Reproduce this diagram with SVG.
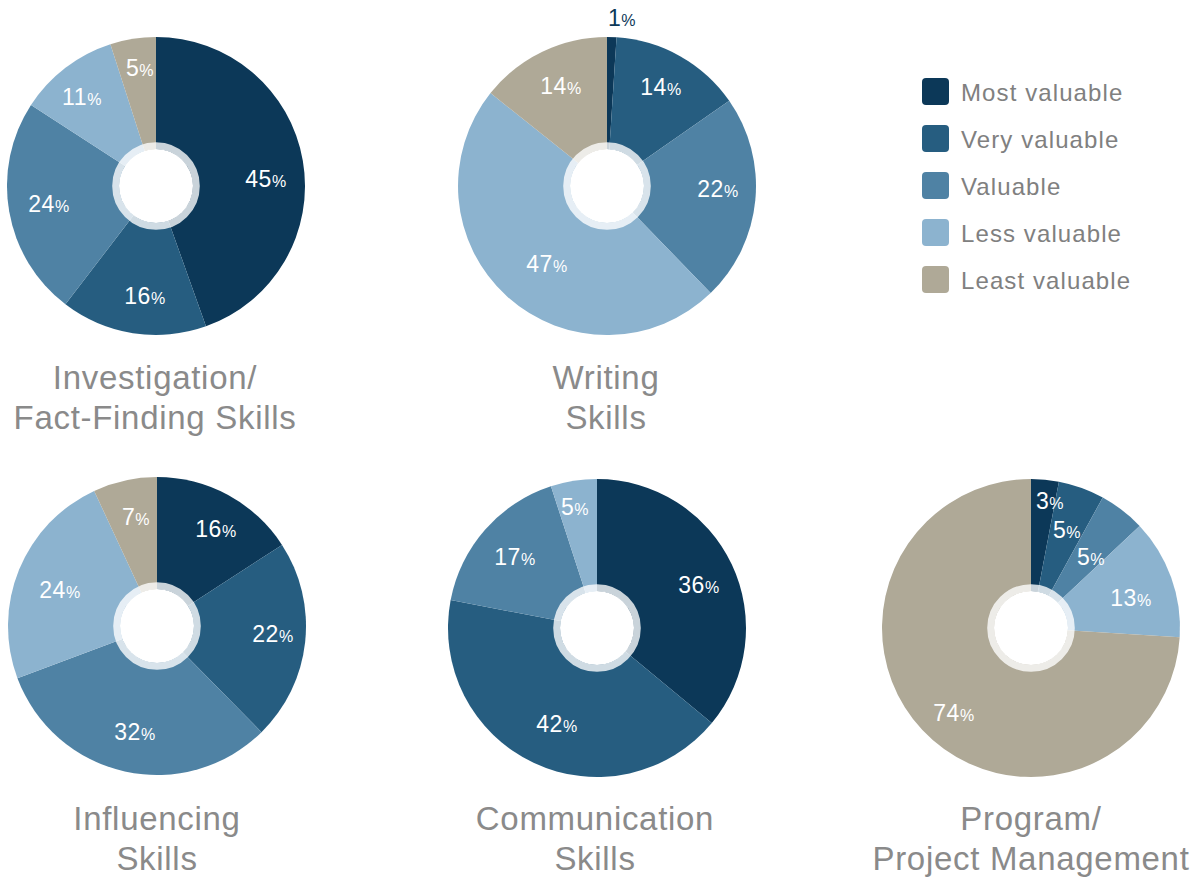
<svg xmlns="http://www.w3.org/2000/svg" width="1204" height="880" viewBox="0 0 1204 880">
<style>
.c1{fill:#0c3858}.c2{fill:#265d80}.c3{fill:#4f82a4}.c4{fill:#8cb3cf}.c5{fill:#afa997}
.ring{fill:none;stroke:#ffffff;stroke-opacity:0.78;stroke-width:7}
.hole{fill:#ffffff}
.lbl{font-family:"Liberation Sans",Arial,sans-serif;font-size:23px;fill:#ffffff;text-anchor:middle;letter-spacing:0.6px}
.lbl .p{font-size:16px}
.title{font-family:"Liberation Sans",Arial,sans-serif;font-size:33px;fill:#8a8a8a;text-anchor:middle;letter-spacing:0.7px}
.leg{font-family:"Liberation Sans",Arial,sans-serif;font-size:24px;fill:#808080;letter-spacing:1.1px}
</style>

<g id="pie-investigation">
<path class="c1" d="M156,186 L156,37 A149,149 0 0 1 205.98,326.37 Z"/>
<path class="c2" d="M156,186 L205.98,326.37 A149,149 0 0 1 65.44,304.32 Z"/>
<path class="c3" d="M156,186 L65.44,304.32 A149,149 0 0 1 30.99,104.90 Z"/>
<path class="c4" d="M156,186 L30.99,104.90 A149,149 0 0 1 110.40,44.15 Z"/>
<path class="c5" d="M156,186 L110.40,44.15 A149,149 0 0 1 156,37 Z"/>
<circle class="ring" cx="156" cy="186" r="40.3"/>
<circle class="hole" cx="156" cy="186" r="37"/>
<text class="lbl" x="266" y="187">45<tspan class="p">%</tspan></text>
<text class="lbl" x="145" y="304">16<tspan class="p">%</tspan></text>
<text class="lbl" x="49" y="212">24<tspan class="p">%</tspan></text>
<text class="lbl" x="82" y="105">11<tspan class="p">%</tspan></text>
<text class="lbl" x="140" y="76">5<tspan class="p">%</tspan></text>
<text class="title" x="155" y="389">Investigation/</text>
<text class="title" x="155" y="429">Fact-Finding Skills</text>
</g>

<g id="pie-writing">
<path class="c1" d="M607,186 L607,37 A149,149 0 0 1 616.55,37.31 Z"/>
<path class="c2" d="M607,186 L616.55,37.31 A149,149 0 0 1 729.20,100.75 Z"/>
<path class="c3" d="M607,186 L729.20,100.75 A149,149 0 0 1 710.66,293.03 Z"/>
<path class="c4" d="M607,186 L710.66,293.03 A149,149 0 0 1 490.51,93.10 Z"/>
<path class="c5" d="M607,186 L490.51,93.10 A149,149 0 0 1 607,37 Z"/>
<circle class="ring" cx="607" cy="186" r="40.3"/>
<circle class="hole" cx="607" cy="186" r="37"/>
<text class="lbl" x="622" y="26" style="fill:#0c3858">1<tspan class="p">%</tspan></text>
<text class="lbl" x="661" y="95">14<tspan class="p">%</tspan></text>
<text class="lbl" x="718" y="197">22<tspan class="p">%</tspan></text>
<text class="lbl" x="547" y="272">47<tspan class="p">%</tspan></text>
<text class="lbl" x="561" y="94">14<tspan class="p">%</tspan></text>
<text class="title" x="606" y="389">Writing</text>
<text class="title" x="606" y="429">Skills</text>
</g>

<g id="pie-influencing">
<path class="c1" d="M157,626 L157,477 A149,149 0 0 1 282.01,544.90 Z"/>
<path class="c2" d="M157,626 L282.01,544.90 A149,149 0 0 1 261.51,732.20 Z"/>
<path class="c3" d="M157,626 L261.51,732.20 A149,149 0 0 1 17.44,678.18 Z"/>
<path class="c4" d="M157,626 L17.44,678.18 A149,149 0 0 1 94.15,490.90 Z"/>
<path class="c5" d="M157,626 L94.15,490.90 A149,149 0 0 1 157,477 Z"/>
<circle class="ring" cx="157" cy="626" r="40.3"/>
<circle class="hole" cx="157" cy="626" r="37"/>
<text class="lbl" x="216" y="537">16<tspan class="p">%</tspan></text>
<text class="lbl" x="273" y="642">22<tspan class="p">%</tspan></text>
<text class="lbl" x="135" y="740">32<tspan class="p">%</tspan></text>
<text class="lbl" x="60" y="598">24<tspan class="p">%</tspan></text>
<text class="lbl" x="136" y="525">7<tspan class="p">%</tspan></text>
<text class="title" x="157" y="830">Influencing</text>
<text class="title" x="157" y="870">Skills</text>
</g>

<g id="pie-communication">
<path class="c1" d="M597,628 L597,479 A149,149 0 0 1 711.81,722.98 Z"/>
<path class="c2" d="M597,628 L711.81,722.98 A149,149 0 0 1 450.64,600.08 Z"/>
<path class="c3" d="M597,628 L450.64,600.08 A149,149 0 0 1 550.96,486.29 Z"/>
<path class="c4" d="M597,628 L550.96,486.29 A149,149 0 0 1 597,479 Z"/>
<circle class="ring" cx="597" cy="628" r="40.3"/>
<circle class="hole" cx="597" cy="628" r="37"/>
<text class="lbl" x="699" y="593">36<tspan class="p">%</tspan></text>
<text class="lbl" x="557" y="732">42<tspan class="p">%</tspan></text>
<text class="lbl" x="515" y="565">17<tspan class="p">%</tspan></text>
<text class="lbl" x="575" y="515">5<tspan class="p">%</tspan></text>
<text class="title" x="595" y="830">Communication</text>
<text class="title" x="595" y="870">Skills</text>
</g>

<g id="pie-program">
<path class="c1" d="M1031,628 L1031,479 A149,149 0 0 1 1058.92,481.64 Z"/>
<path class="c2" d="M1031,628 L1058.92,481.64 A149,149 0 0 1 1102.78,497.43 Z"/>
<path class="c3" d="M1031,628 L1102.78,497.43 A149,149 0 0 1 1139.62,526.00 Z"/>
<path class="c4" d="M1031,628 L1139.62,526.00 A149,149 0 0 1 1179.71,637.36 Z"/>
<path class="c5" d="M1031,628 L1179.71,637.36 A149,149 0 1 1 1031,479 Z"/>
<circle class="ring" cx="1031" cy="628" r="40.3"/>
<circle class="hole" cx="1031" cy="628" r="37"/>
<text class="lbl" x="1050" y="509">3<tspan class="p">%</tspan></text>
<text class="lbl" x="1067" y="538">5<tspan class="p">%</tspan></text>
<text class="lbl" x="1091" y="565">5<tspan class="p">%</tspan></text>
<text class="lbl" x="1131" y="606">13<tspan class="p">%</tspan></text>
<text class="lbl" x="954" y="721">74<tspan class="p">%</tspan></text>
<text class="title" x="1031" y="830">Program/</text>
<text class="title" x="1031" y="870">Project Management</text>
</g>

<g id="legend">
<rect class="c1" x="922" y="78" width="27" height="27" rx="4"/>
<text class="leg" x="961" y="101">Most valuable</text>
<rect class="c2" x="922" y="125" width="27" height="27" rx="4"/>
<text class="leg" x="961" y="148">Very valuable</text>
<rect class="c3" x="922" y="172" width="27" height="27" rx="4"/>
<text class="leg" x="961" y="195">Valuable</text>
<rect class="c4" x="922" y="219" width="27" height="27" rx="4"/>
<text class="leg" x="961" y="242">Less valuable</text>
<rect class="c5" x="922" y="266" width="27" height="27" rx="4"/>
<text class="leg" x="961" y="289">Least valuable</text>
</g>
<g id="connectors"/>
</svg>
